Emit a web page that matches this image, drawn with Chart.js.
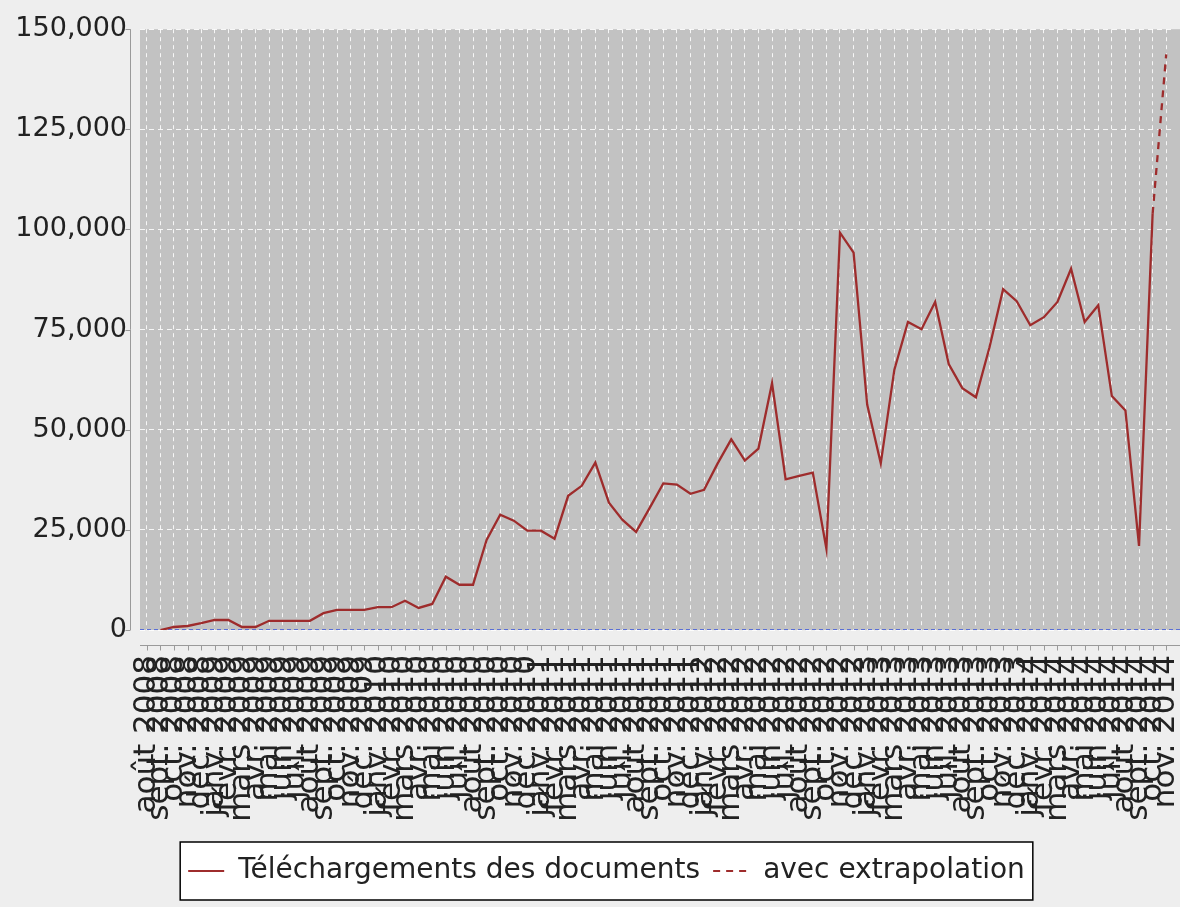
<!DOCTYPE html>
<html>
<head>
<meta charset="utf-8">
<script src="https://cdn.jsdelivr.net/npm/chart.js@4.4.1/dist/chart.umd.min.js"></script>
<style>
  html, body { margin: 0; padding: 0; background: #eeeeee; }
  canvas { display: block; }
</style>
</head>
<body>
<canvas id="telechargementsChart" width="1180" height="907"></canvas>
<script>
// Mois (catégories de l'axe X)
const mois = [
  'août 2008', 'sept. 2008', 'oct. 2008', 'nov. 2008', 'déc. 2008',
  'janv. 2009', 'févr. 2009', 'mars 2009', 'avr. 2009', 'mai 2009', 'juin 2009',
  'juil. 2009', 'août 2009', 'sept. 2009', 'oct. 2009', 'nov. 2009', 'déc. 2009',
  'janv. 2010', 'févr. 2010', 'mars 2010', 'avr. 2010', 'mai 2010', 'juin 2010',
  'juil. 2010', 'août 2010', 'sept. 2010', 'oct. 2010', 'nov. 2010', 'déc. 2010',
  'janv. 2011', 'févr. 2011', 'mars 2011', 'avr. 2011', 'mai 2011', 'juin 2011',
  'juil. 2011', 'août 2011', 'sept. 2011', 'oct. 2011', 'nov. 2011', 'déc. 2011',
  'janv. 2012', 'févr. 2012', 'mars 2012', 'avr. 2012', 'mai 2012', 'juin 2012',
  'juil. 2012', 'août 2012', 'sept. 2012', 'oct. 2012', 'nov. 2012', 'déc. 2012',
  'janv. 2013', 'févr. 2013', 'mars 2013', 'avr. 2013', 'mai 2013', 'juin 2013',
  'juil. 2013', 'août 2013', 'sept. 2013', 'oct. 2013', 'nov. 2013', 'déc. 2013',
  'janv. 2014', 'févr. 2014', 'mars 2014', 'avr. 2014', 'mai 2014', 'juin 2014',
  'juil. 2014', 'août 2014', 'sept. 2014', 'oct. 2014', 'nov. 2014'
];

// Téléchargements mensuels
const telechargements = [
  null, 0, 750, 1000, 1700, 2500, 2500, 750, 750, 2300,
  2300, 2300, 2300, 4200, 5000, 5000, 5000, 5700, 5700, 7300,
  5500, 6500, 13300, 11300, 11300, 22500, 28800, 27300, 24800, 24800,
  22800, 33500, 36000, 41800, 31800, 27500, 24500, 30500, 36600, 36300,
  34000, 35000, 41600, 47600, 42300, 45300, 61600, 37600, 38500, 39300,
  20300, 99200, 94200, 56300, 41600, 65000, 76900, 75100, 81900, 66400,
  60400, 58100, 70600, 85100, 82100, 76100, 78100, 81900, 90200, 76900,
  81100, 58400, 54800, 21000, 103900, null
];

// Extrapolation du dernier mois
const extrapolation = [
  null, null, null, null, null, null, null, null, null, null,
  null, null, null, null, null, null, null, null, null, null,
  null, null, null, null, null, null, null, null, null, null,
  null, null, null, null, null, null, null, null, null, null,
  null, null, null, null, null, null, null, null, null, null,
  null, null, null, null, null, null, null, null, null, null,
  null, null, null, null, null, null, null, null, null, null,
  null, null, null, null, 103900, 143700
];

const yMax = 150000;
const yStep = 25000;

const rouge = '#9e2c2c';
const texte = '#222222';

// fond, axes décalés, ligne du zéro et cadre de la légende
const decor = {
  id: 'decor',
  afterLayout(chart) {
    // légende centrée un peu à droite, comme sur l'original
    chart.legend.left += 20;
    chart.legend.right += 20;
  },
  beforeDraw(chart) {
    const { ctx, chartArea: a, scales } = chart;
    ctx.save();
    ctx.fillStyle = '#eeeeee';
    ctx.fillRect(0, 0, chart.width, chart.height);
    ctx.fillStyle = '#c2c2c2';
    ctx.fillRect(a.left, a.top, chart.width - a.left, a.bottom - a.top);

    ctx.strokeStyle = '#9a9a9a';
    ctx.lineWidth = 1;
    // axe X
    const yAxe = a.bottom + 15.5;
    ctx.beginPath();
    ctx.moveTo(a.left, yAxe);
    ctx.lineTo(chart.width, yAxe);
    scales.x.ticks.forEach((t, i) => {
      const x = Math.round(scales.x.getPixelForTick(i)) + 0.5;
      ctx.moveTo(x, yAxe);
      ctx.lineTo(x, yAxe + 5);
    });
    ctx.stroke();
    // axe Y
    const xAxe = a.left - 9.5;
    ctx.beginPath();
    ctx.moveTo(xAxe, a.top);
    ctx.lineTo(xAxe, a.bottom);
    scales.y.ticks.forEach((t) => {
      const y = Math.round(scales.y.getPixelForValue(t.value)) + 0.5;
      ctx.moveTo(xAxe, y);
      ctx.lineTo(xAxe - 5, y);
    });
    ctx.stroke();

    // cadre de la légende
    const boxes = chart.legend.legendHitBoxes;
    if (boxes && boxes.length) {
      const left = Math.min(...boxes.map((b) => b.left)) - 8;
      const right = Math.max(...boxes.map((b) => b.left + b.width)) + 8;
      const top = Math.min(...boxes.map((b) => b.top)) - 15;
      const bottom = Math.max(...boxes.map((b) => b.top + b.height)) + 15;
      ctx.fillStyle = '#ffffff';
      ctx.fillRect(left, top, right - left, bottom - top);
      ctx.strokeStyle = '#000000';
      ctx.lineWidth = 1.5;
      ctx.strokeRect(left, top, right - left, bottom - top);
    }
    ctx.restore();
  },
  beforeDatasetsDraw(chart) {
    const { ctx, chartArea: a, scales } = chart;
    const y0 = Math.round(scales.y.getPixelForValue(0)) - 0.5;
    ctx.save();
    ctx.strokeStyle = '#5a6fd6';
    ctx.lineWidth = 1;
    ctx.setLineDash([4, 3]);
    ctx.beginPath();
    ctx.moveTo(a.left, y0);
    ctx.lineTo(chart.width, y0);
    ctx.stroke();
    ctx.restore();
  }
};

const chartInstance = new Chart(document.getElementById('telechargementsChart'), {
  type: 'line',
  data: {
    labels: mois,
    datasets: [
      {
        label: 'Téléchargements des documents',
        data: telechargements,
        borderColor: rouge,
        backgroundColor: rouge,
        borderWidth: 2.3,
        pointRadius: 0,
        pointStyle: 'line',
        tension: 0,
      },
      {
        label: 'avec extrapolation',
        data: extrapolation,
        borderColor: rouge,
        backgroundColor: rouge,
        borderWidth: 2.3,
        borderDash: [7, 6],
        pointRadius: 0,
        pointStyle: 'line',
        tension: 0,
      },
    ],
  },
  options: {
    responsive: false,
    animation: false,
    devicePixelRatio: 1,
    layout: { padding: { top: 28, right: 7, bottom: 12, left: 0 } },
    plugins: {
      tooltip: { enabled: false },
      legend: {
        position: 'bottom',
        labels: {
          usePointStyle: true,
          pointStyleWidth: 36,
          boxWidth: 36,
          padding: 13,
          color: texte,
          font: { family: 'DejaVu Sans', size: 28 },
          generateLabels: (chart) => {
            const items = Chart.defaults.plugins.legend.labels.generateLabels(chart);
            items.forEach((item) => {
              const ds = chart.data.datasets[item.datasetIndex];
              item.lineDash = ds.borderDash || [];
              item.lineWidth = 2;
              item.strokeStyle = ds.borderColor;
            });
            return items;
          },
        },
      },
    },
    scales: {
      x: {
        offset: true,
        grid: {
          offset: false,
          color: 'rgba(255,255,255,0.85)',
          lineWidth: 1,
          drawTicks: false,
        },
        border: { display: false, dash: [4, 4] },
        ticks: {
          autoSkip: false,
          minRotation: 90,
          maxRotation: 90,
          padding: 25,
          color: texte,
          font: { family: 'DejaVu Sans', size: 31 },
        },
        afterFit: (scale) => {
          scale.height = 214;
          scale.paddingLeft = 0;
          scale.paddingRight = 0;
        },
      },
      y: {
        min: 0,
        max: yMax,
        grid: {
          color: 'rgba(255,255,255,0.85)',
          lineWidth: 1,
          drawTicks: false,
        },
        border: { display: false, dash: [5, 4] },
        ticks: {
          stepSize: yStep,
          padding: 13,
          color: texte,
          font: { family: 'DejaVu Sans', size: 27 },
          callback: (value) => value.toLocaleString('en-US'),
        },
        afterFit: (scale) => { scale.width = 140; },
      },
    },
  },
  plugins: [decor],
});
</script>
</body>
</html>
